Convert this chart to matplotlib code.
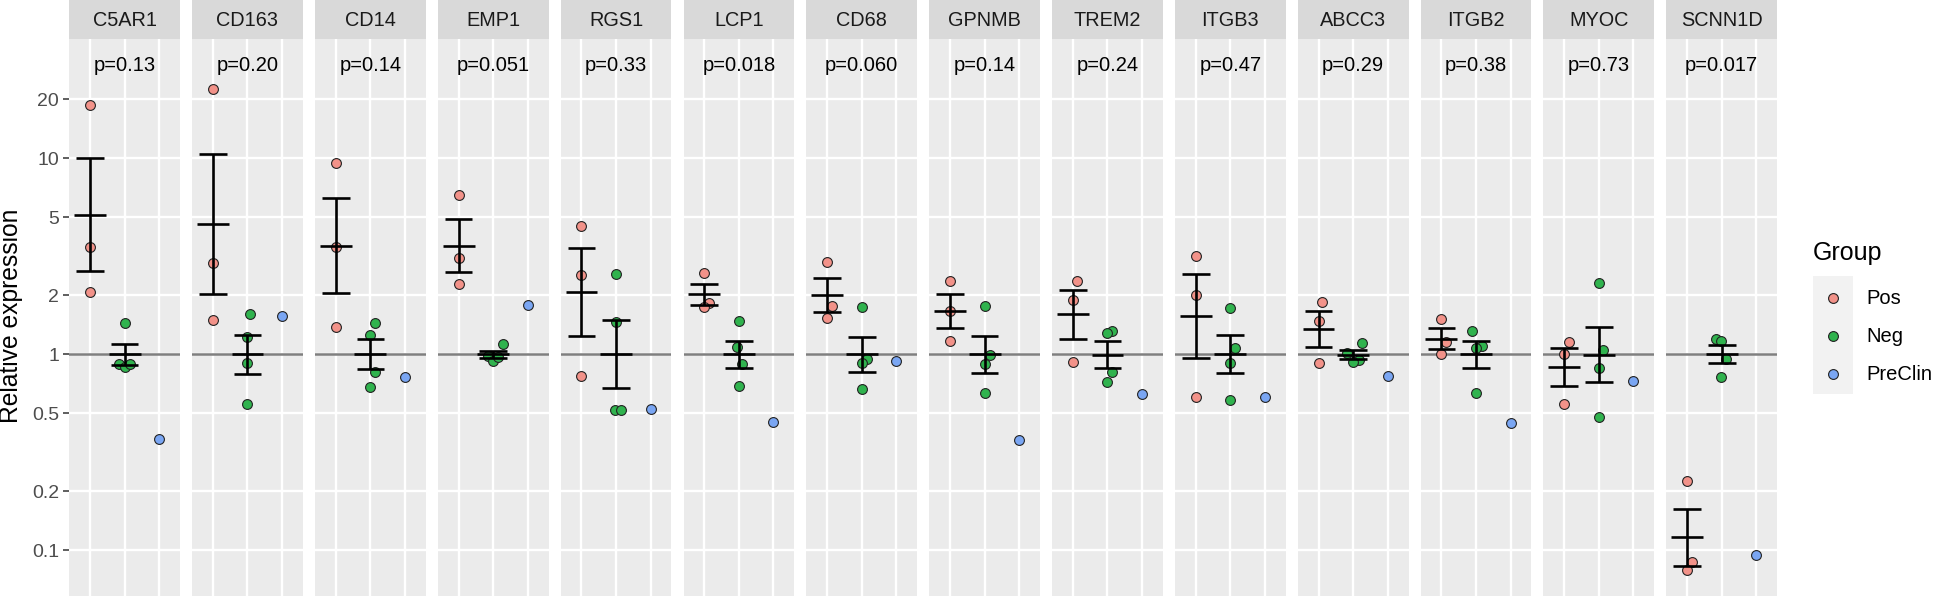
# relative expression of macrophage genes per group, one small panel per gene
# log scale, error bars are mean +/- se of the log values

import numpy as np
import matplotlib
matplotlib.use("Agg")
import matplotlib.pyplot as plt

plt.rcParams['font.family'] = ['Liberation Sans', 'DejaVu Sans']

GENES = ["C5AR1", "CD163", "CD14", "EMP1", "RGS1", "LCP1", "CD68",
         "GPNMB", "TREM2", "ITGB3", "ABCC3", "ITGB2", "MYOC", "SCNN1D"]
P_VALUES = ["0.13", "0.20", "0.14", "0.051", "0.33", "0.018", "0.060",
            "0.14", "0.24", "0.47", "0.29", "0.38", "0.73", "0.017"]

POS = [
    [18.8, 3.52, 2.07],
    [22.6, 2.93, 1.49],
    [9.48, 3.52, 1.38],
    [6.49, 3.11, 2.29],
    [4.52, 2.55, 0.776],
    [2.60, 1.83, 1.75],
    [2.96, 1.76, 1.54],
    [2.37, 1.66, 1.17],
    [2.36, 1.89, 0.915],
    [3.16, 2.01, 0.609],
    [1.84, 1.48, 0.898],
    [1.51, 1.15, 1.00],
    [1.16, 1.00, 0.557],
    [0.227, 0.0871, 0.0796],
]
NEG = [
    [1.45, 0.895, 0.86, 0.895],
    [1.61, 1.23, 0.907, 0.555],
    [1.44, 1.26, 0.81, 0.68],
    [1.13, 0.98, 0.93, 0.965],
    [2.58, 1.46, 0.517, 0.517],
    [1.48, 1.09, 0.895, 0.693],
    [1.75, 0.944, 0.906, 0.663],
    [1.77, 0.99, 0.895, 0.634],
    [1.32, 1.28, 0.81, 0.719],
    [1.73, 1.08, 0.906, 0.588],
    [1.14, 1.01, 0.935, 0.919],
    [1.32, 1.10, 1.08, 0.634],
    [2.31, 1.05, 0.848, 0.481],
    [1.20, 1.17, 0.944, 0.765],
]
PRECLIN = [0.37, 1.57, 0.765, 1.79, 0.524, 0.454, 0.927,
           0.366, 0.629, 0.604, 0.776, 0.446, 0.732, 0.0948]

GROUPS = ["Pos", "Neg", "PreClin"]
Y_TICKS = [0.1, 0.2, 0.5, 1, 2, 5, 10, 20]
Y_TICK_LABELS = ["0.1", "0.2", "0.5", "1", "2", "5", "10", "20"]

# horizontal jitter of the dots (in category units)
POS_JITTER = [
    [0, 0, 0], [0, 0, 0], [0, 0, 0], [0, 0, 0], [0, 0, 0],
    [0, 0.15, 0], [0, 0.13, 0], [0, 0, 0], [0.11, 0, 0], [0, 0, 0],
    [0.11, 0, 0], [0, 0.14, 0], [0.13, 0, 0], [0, 0.14, 0],
]
NEG_JITTER = [
    [0, -0.15, 0, 0.15],
    [0.07, 0, 0, 0],
    [0.13, 0, 0.13, 0],
    [0.27, -0.16, -0.01, 0.15],
    [0, 0, -0.03, 0.14],
    [0, -0.06, 0.10, 0],
    [0, 0.14, 0, 0],
    [0, 0.15, 0, 0],
    [0.14, -0.01, 0.14, -0.01],
    [0, 0.13, 0, 0],
    [0.26, -0.17, 0.16, 0],
    [-0.11, 0.18, 0, 0],
    [0, 0.12, 0, 0],
    [-0.17, -0.01, 0.11, -0.01],
]

COLORS = ["#F29289", "#30B34E", "#7AA6F3"]
W, H = 1936, 596
DOT = 50


def box(x, y, w, h):
    # pixel box (from top left) -> figure fraction
    return [x / W, 1 - (y + h) / H, w / W, h / H]


def log_mean_se(values):
    logs = np.log10(values)
    m = logs.mean()
    se = logs.std(ddof=1) / np.sqrt(len(logs))
    return 10 ** m, 10 ** (m - se), 10 ** (m + se)


def draw_panel(fig, i):
    left = 69.3 + i * 122.85
    width = 110.7

    strip = fig.add_axes(box(left, 0, width, 39))
    strip.set_facecolor("#D9D9D9")
    strip.set_xticks([])
    strip.set_yticks([])
    for s in strip.spines.values():
        s.set_visible(False)
    strip.text(0.5, 0.47, GENES[i], ha="center", va="center",
               fontsize=14.3, color="#1A1A1A", transform=strip.transAxes)

    ax = fig.add_axes(box(left, 39, width, 557))
    ax.set_facecolor("#EBEBEB")
    ax.set_yscale("log")
    ax.set_xlim(0.4, 3.6)
    ax.set_ylim(0.0585, 40.6)
    ax.set_xticks([1, 2, 3])
    ax.set_yticks(Y_TICKS)
    ax.yaxis.set_minor_locator(matplotlib.ticker.NullLocator())
    ax.grid(True, color="white", lw=1.7)
    ax.set_axisbelow(True)
    for s in ax.spines.values():
        s.set_visible(False)
    ax.tick_params(axis="x", length=0, labelbottom=False)
    if i == 0:
        ax.set_yticklabels(Y_TICK_LABELS)
        ax.tick_params(axis="y", length=4.1, width=1.1, color="#333333",
                       labelsize=14, labelcolor="#4D4D4D", pad=3.2)
    else:
        ax.tick_params(axis="y", length=0, labelleft=False)

    ax.axhline(1, color="#7F7F7F", lw=1.8, zorder=2)

    groups = [POS[i], NEG[i], [PRECLIN[i]]]
    jitters = [POS_JITTER[i], NEG_JITTER[i], [0]]
    for j, vals in enumerate(groups):
        xs = [j + 1 + d for d in jitters[j]]
        ax.scatter(xs, vals, s=DOT, color=COLORS[j], edgecolors="#222222",
                   linewidths=0.8, zorder=3)

    # mean +/- se bars for Pos and Neg
    for j in range(2):
        mean, lo, hi = log_mean_se(groups[j])
        x = j + 1
        ax.vlines(x, lo, hi, color="black", lw=1.9, zorder=4)
        ax.hlines([lo, hi], x - 0.4, x + 0.4, color="black", lw=1.9, zorder=4)
        ax.hlines(mean, x - 0.46, x + 0.46, color="black", lw=1.9, zorder=4)

    ax.text(2, 29.7, "p=" + P_VALUES[i], ha="center", va="center",
            fontsize=14.5, color="black")


def draw_legend(fig):
    fig.text(1813 / W, 1 - 253 / H, "Group", ha="left", va="center",
             fontsize=18, color="black")
    key = fig.add_axes(box(1813, 276, 40, 118))
    key.set_facecolor("#F2F2F2")
    key.set_xticks([])
    key.set_yticks([])
    for s in key.spines.values():
        s.set_visible(False)
    key.set_xlim(0, 40)
    key.set_ylim(394, 276)
    ys = [298, 336, 374]
    for j, name in enumerate(GROUPS):
        key.scatter([20.3], [ys[j]], s=DOT, color=COLORS[j],
                    edgecolors="#222222", linewidths=0.8)
        fig.text(1866 / W, 1 - ys[j] / H, name, ha="left", va="center",
                 fontsize=14.5, color="black")


def main():
    fig = plt.figure(figsize=(W / 100, H / 100), dpi=100)
    for i in range(len(GENES)):
        draw_panel(fig, i)
    fig.text(11 / W, 1 - 316 / H, "Relative expression", rotation=90,
             ha="center", va="center", fontsize=17.7, color="black")
    draw_legend(fig)
    fig.savefig("out.png", dpi=100)


main()
